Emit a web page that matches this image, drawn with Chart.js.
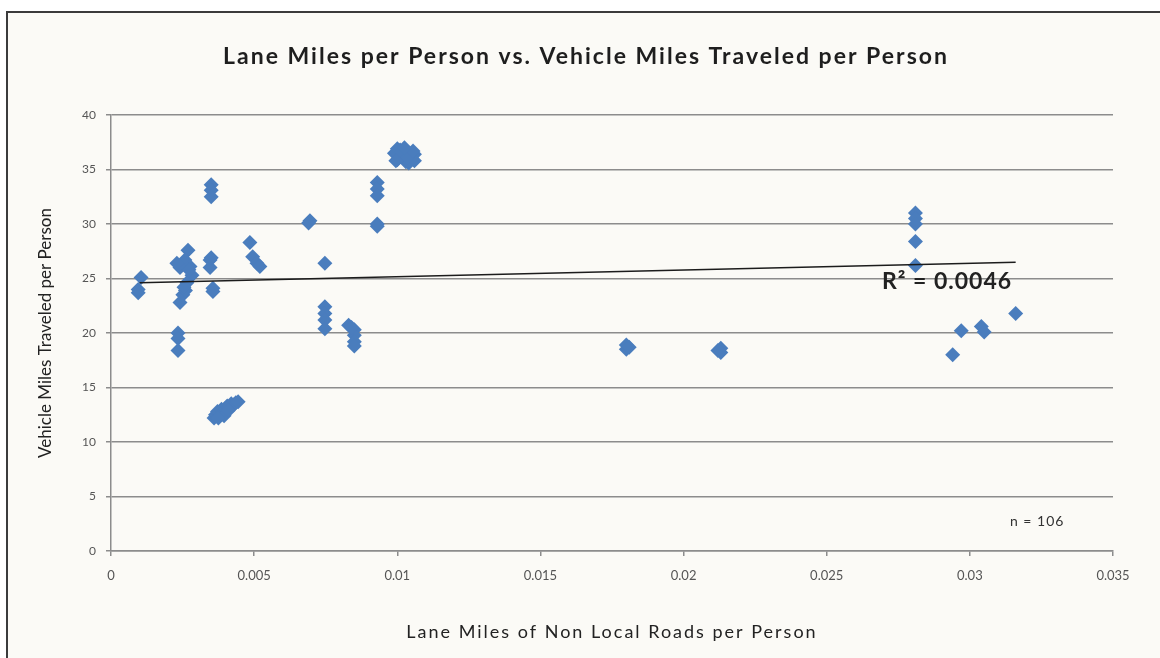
<!DOCTYPE html>
<html>
<head>
<meta charset="utf-8">
<script src="https://cdn.jsdelivr.net/npm/chart.js@4.4.0/dist/chart.umd.min.js"></script>
<style>
  html, body { margin: 0; padding: 0; background: #ffffff; }
  #marco {
    position: absolute; left: 6px; top: 11px; width: 1160px; height: 660px;
    border-left: 2px solid #3b3b3b; border-top: 2px solid #3b3b3b;
    background: #fbfaf6;
  }
  #contenedor { position: absolute; left: 0; top: 0; width: 1160px; height: 658px; }
</style>
</head>
<body>
<div id="marco"></div>
<div id="contenedor"><canvas id="grafica-dispersion"></canvas></div>
<script>
// DATOS
var puntosX = [
    0.00105, 0.00095, 0.00095,
    0.00269, 0.00258, 0.00276, 0.00241, 0.00283, 0.00251, 0.00241, 0.00265, 0.00260, 0.00230, 0.00272, 0.00255,
    0.00234, 0.00234, 0.00234,
    0.00346, 0.00346, 0.00350, 0.00356, 0.00356, 0.00350, 0.00350, 0.00350,
    0.00360, 0.00365, 0.00372, 0.00380, 0.00386, 0.00392, 0.00400, 0.00406, 0.00412, 0.00420, 0.00428, 0.00436, 0.00444, 0.00395, 0.00410, 0.00375,
    0.00485, 0.00495, 0.00510, 0.00520,
    0.00695, 0.00690,
    0.00747, 0.00747, 0.00747, 0.00747, 0.00747,
    0.00830, 0.00850, 0.00850, 0.00850, 0.00850, 0.00840,
    0.00930, 0.00930, 0.00930, 0.00930, 0.00930,
    0.00990, 0.01000, 0.01010, 0.01020, 0.01030, 0.01040, 0.01050, 0.01060, 0.01040, 0.01000, 0.01060, 0.01015, 0.01035, 0.01055, 0.00995, 0.01025,
    0.01800, 0.01800, 0.01810,
    0.02130, 0.02130, 0.02120,
    0.02810, 0.02810, 0.02810, 0.02810, 0.02810,
    0.02940, 0.02970, 0.03040, 0.03050, 0.03160
];
var puntosY = [
    25.1, 23.7, 24.0,
    27.6, 26.7, 26.1, 26.0, 25.3, 23.5, 22.8, 24.6, 23.9, 26.4, 25.8, 24.2,
    20.0, 19.5, 18.4,
    26.7, 26.0, 26.9, 24.1, 23.8, 33.6, 33.1, 32.5,
    12.2, 12.5, 12.8, 12.6, 13.0, 12.9, 13.1, 13.3, 13.2, 13.5, 13.4, 13.6, 13.7, 12.4, 12.9, 12.2,
    28.3, 27.0, 26.4, 26.1,
    30.3, 30.1,
    26.4, 22.4, 21.8, 21.2, 20.4,
    20.7, 20.3, 19.8, 19.2, 18.8, 20.5,
    33.8, 33.2, 32.6, 30.0, 29.8,
    36.5, 35.9, 36.8, 36.2, 35.7, 36.5, 36.0, 36.4, 35.6, 36.9, 35.8, 36.6, 36.1, 36.7, 35.8, 37.0,
    18.9, 18.5, 18.7,
    18.6, 18.2, 18.4,
    31.0, 30.5, 30.0, 28.4, 26.2,
    18.0, 20.2, 20.6, 20.1, 21.8
];

// Línea de tendencia (extremos)
var tendenciaX = [0.001, 0.0316];
var tendenciaY = [24.6, 26.5];

var ticksX = [0, 0.005, 0.01, 0.015, 0.02, 0.025, 0.03, 0.035];
var etiquetasX = ['0', '0.005', '0.01', '0.015', '0.02', '0.025', '0.03', '0.035'];
var ticksY = [0, 5, 10, 15, 20, 25, 30, 35, 40];

var titulo = 'Lane Miles per Person vs. Vehicle Miles Traveled per Person';
var tituloX = 'Lane Miles of Non Local Roads per Person';
var tituloY = 'Vehicle Miles Traveled per Person';
var textoR2 = 'R\u00b2 = 0.0046';
var textoN = 'n = 106';

var fuente = 'Lato, "Open Sans", sans-serif';

function crearGrafica() {
    var ctx = document.getElementById('grafica-dispersion').getContext('2d');

    var puntos = puntosX.map((x, i) => ({ x: x, y: puntosY[i] }));
    var tendencia = tendenciaX.map((x, i) => ({ x: x, y: tendenciaY[i] }));

    // Título, título del eje X y textos R² / n (la imagen original está estirada en horizontal)
    var textos = {
        id: 'textos',
        afterDraw: function(chart) {
            var c = chart.ctx;
            var area = chart.chartArea;
            var sx = chart.scales.x, sy = chart.scales.y;
            c.save();
            c.textBaseline = 'middle';

            c.textAlign = 'center';
            c.fillStyle = '#1e1e1e';
            c.font = 'bold 23px ' + fuente;
            c.letterSpacing = '2px';
            c.fillText(titulo, 586, 57);

            c.fillStyle = '#222222';
            c.font = '18px ' + fuente;
            c.letterSpacing = '2px';
            c.fillText(tituloX, (area.left + area.right) / 2, 632);

            c.textAlign = 'left';
            c.fillStyle = '#222222';
            c.font = 'bold 23px ' + fuente;
            c.letterSpacing = '1px';
            c.fillText(textoR2, sx.getPixelForValue(0.02693), sy.getPixelForValue(24.7));

            c.fillStyle = '#333333';
            c.font = '14px ' + fuente;
            c.letterSpacing = '1px';
            c.fillText(textoN, sx.getPixelForValue(0.0314), sy.getPixelForValue(2.7));
            c.restore();
        }
    };

    new Chart(ctx, {
        type: 'scatter',
        data: {
            datasets: [{
                label: 'VMT',
                data: puntos,
                backgroundColor: '#4a7dbd',
                borderColor: '#4a7dbd',
                borderWidth: 0,
                pointStyle: 'rectRot',
                pointRadius: 7.5,
                order: 2
            }, {
                type: 'line',
                label: 'Tendencia',
                data: tendencia,
                borderColor: '#1c1c1c',
                borderWidth: 1.5,
                pointRadius: 0,
                fill: false,
                order: 1
            }]
        },
        options: {
            responsive: true,
            maintainAspectRatio: false,
            animation: false,
            layout: { padding: { top: 115, left: 0, right: 47, bottom: 0 } },
            plugins: {
                legend: { display: false },
                tooltip: { enabled: false },
                title: { display: false }
            },
            scales: {
                x: {
                    type: 'linear',
                    min: 0,
                    max: 0.035,
                    afterBuildTicks: function(scale) {
                        scale.ticks = ticksX.map(v => ({ value: v }));
                    },
                    afterFit: function(scale) { scale.height = 107; },
                    ticks: {
                        color: '#555555',
                        font: { family: fuente, size: 13 },
                        padding: 12,
                        maxRotation: 0,
                        callback: function(value, index) { return etiquetasX[index]; }
                    },
                    grid: { drawOnChartArea: false, drawTicks: true, tickLength: 5, color: '#8c8c8c', lineWidth: 1.5 },
                    border: { display: true, color: '#8c8c8c', width: 1.5 },
                    title: { display: false, text: tituloX }
                },
                y: {
                    min: 0,
                    max: 40,
                    afterBuildTicks: function(scale) {
                        scale.ticks = ticksY.map(v => ({ value: v }));
                    },
                    afterFit: function(scale) { scale.width = 111; },
                    ticks: {
                        color: '#555555',
                        font: { family: fuente, size: 12 },
                        padding: 10
                    },
                    grid: { color: '#8c8c8c', lineWidth: 1.5, tickLength: 5 },
                    border: { display: true, color: '#8c8c8c', width: 1.5 },
                    title: {
                        display: true,
                        text: tituloY,
                        color: '#222222',
                        font: { family: fuente, size: 17 },
                        padding: { top: 35, bottom: 0 }
                    }
                }
            }
        },
        plugins: [textos]
    });
}

crearGrafica();
</script>
</body>
</html>
